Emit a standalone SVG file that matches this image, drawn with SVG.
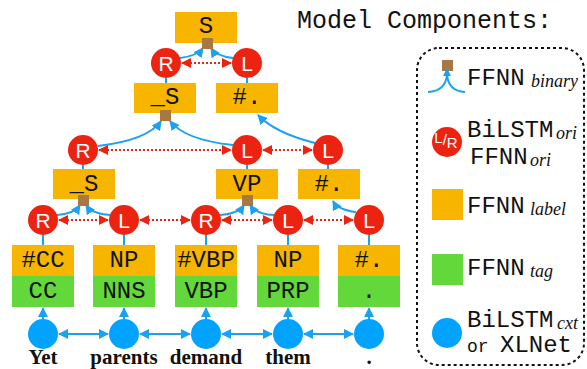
<svg xmlns="http://www.w3.org/2000/svg" width="587" height="369" viewBox="0 0 587 369">
<style>
.ob{fill:#F7B500}
.gb{fill:#62D83A}
.rc{fill:#EC2311}
.bc{fill:#00A3FF}
.sq{fill:#A87842}
.m{font-family:"Liberation Mono",monospace;font-size:24px;fill:#111}
.mc{text-anchor:middle}
.ct{font-family:"Liberation Sans","Open Sans",sans-serif;font-size:21px;fill:#fff;text-anchor:middle}
.w{font-family:"Liberation Serif",serif;font-weight:bold;font-size:21px;fill:#111;text-anchor:middle}
.sub{font-family:"Liberation Serif",serif;font-style:italic;font-size:18px;fill:#111}
.bl{fill:none;stroke:#1BA1F2;stroke-width:2}
.ba{fill:none;stroke:#1BA1F2;stroke-width:2;marker-end:url(#ab)}
.bd{fill:none;stroke:#1BA1F2;stroke-width:2;marker-end:url(#ab);marker-start:url(#ab)}
.rd{fill:none;stroke:#EC2311;stroke-width:2;stroke-dasharray:2,2;marker-end:url(#ar);marker-start:url(#ar)}
</style>
<defs>
<marker id="ab" viewBox="0 0 10 10" refX="9" refY="5" markerWidth="5" markerHeight="5" orient="auto-start-reverse"><path d="M0,0 L10,5 L0,10 z" fill="#1BA1F2"/></marker>
<marker id="ar" viewBox="0 0 10 10" refX="9" refY="5" markerWidth="5" markerHeight="5" orient="auto-start-reverse"><path d="M0,0 L10,5 L0,10 z" fill="#EC2311"/></marker>
</defs>

<g id="connectors">
<path class="bl" d="M166,78V83 M247,78V83 M83,165V169 M247,165V169 M328,165V169 M43,235V245 M124,235V245 M206,235V245 M288,235V245 M369,235V245"/>
<path class="ba" d="M43,319V308"/>
<path class="ba" d="M124,319V308"/>
<path class="ba" d="M206,319V308"/>
<path class="ba" d="M288,319V308"/>
<path class="ba" d="M369,319V308"/>
<path class="bd" d="M59,334H108"/>
<path class="bd" d="M140,334H190"/>
<path class="bd" d="M222,334H272"/>
<path class="bd" d="M304,334H353"/>
<path class="ba" d="M180,58 Q197,56 203,48"/>
<path class="ba" d="M233,58 Q216,56 211,48"/>
<path class="ba" d="M98,146 Q148,140 161,121"/>
<path class="ba" d="M233,145 Q185,140 170,121"/>
<path class="ba" d="M57,215 Q74,214 80,205"/>
<path class="ba" d="M110,215 Q92,214 86,205"/>
<path class="ba" d="M220,215 Q238,214 244,205"/>
<path class="ba" d="M274,215 Q256,214 250,205"/>
<path class="ba" d="M315,143 Q275,133 258,115"/>
<path class="ba" d="M356,212 Q338,210 333,201"/>
<path class="rd" d="M182,63H231"/>
<path class="rd" d="M99,150H231"/>
<path class="rd" d="M263,150H312"/>
<path class="rd" d="M59,220H108"/>
<path class="rd" d="M140,220H190"/>
<path class="rd" d="M222,220H272"/>
<path class="rd" d="M304,220H353"/>
</g>

<g id="n_S"><rect class="ob" x="175" y="12" width="62" height="31"/><text class="m mc" x="206" y="33">S</text></g>
<g id="n_S2"><rect class="ob" x="134" y="83" width="62" height="30"/><text class="m mc" x="165" y="104">_S</text></g>
<g id="n_dot2"><rect class="ob" x="216" y="83" width="62" height="30"/><text class="m mc" x="247" y="104">#.</text></g>
<g id="n_S3"><rect class="ob" x="53" y="169" width="62" height="30"/><text class="m mc" x="84" y="191">_S</text></g>
<g id="n_VP"><rect class="ob" x="216" y="169" width="62" height="30"/><text class="m mc" x="247" y="191">VP</text></g>
<g id="n_dot3"><rect class="ob" x="298" y="169" width="62" height="30"/><text class="m mc" x="329" y="191">#.</text></g>

<g id="sq1"><rect class="sq" x="202" y="38" width="11" height="11"/></g>
<g id="sq2"><rect class="sq" x="160" y="110" width="11" height="11"/></g>
<g id="sq3"><rect class="sq" x="78" y="195" width="11" height="11"/></g>
<g id="sq4"><rect class="sq" x="242" y="195" width="11" height="11"/></g>

<g id="c1R"><circle class="rc" cx="166" cy="63" r="15"/><text class="ct" x="166" y="70.5">R</text></g>
<g id="c1L"><circle class="rc" cx="247" cy="63" r="15"/><text class="ct" x="247" y="70.5">L</text></g>
<g id="c2R"><circle class="rc" cx="83" cy="150" r="15"/><text class="ct" x="83" y="157.5">R</text></g>
<g id="c2L"><circle class="rc" cx="247" cy="150" r="15"/><text class="ct" x="247" y="157.5">L</text></g>
<g id="c2L2"><circle class="rc" cx="328" cy="150" r="15"/><text class="ct" x="328" y="157.5">L</text></g>
<g id="c3R"><circle class="rc" cx="43" cy="220" r="15"/><text class="ct" x="43" y="227.5">R</text></g>
<g id="c3L"><circle class="rc" cx="124" cy="220" r="15"/><text class="ct" x="124" y="227.5">L</text></g>
<g id="c3R2"><circle class="rc" cx="206" cy="220" r="15"/><text class="ct" x="206" y="227.5">R</text></g>
<g id="c3L2"><circle class="rc" cx="288" cy="220" r="15"/><text class="ct" x="288" y="227.5">L</text></g>
<g id="c3L3"><circle class="rc" cx="369" cy="220" r="15"/><text class="ct" x="369" y="227.5">L</text></g>

<g id="t1"><rect class="ob" x="12" y="245" width="62" height="31"/><text class="m mc" x="43" y="267">#CC</text><rect class="gb" x="12" y="276" width="62" height="31"/><text class="m mc" x="43" y="298">CC</text></g>
<g id="t2"><rect class="ob" x="93" y="245" width="62" height="31"/><text class="m mc" x="124" y="267">NP</text><rect class="gb" x="93" y="276" width="62" height="31"/><text class="m mc" x="124" y="298">NNS</text></g>
<g id="t3"><rect class="ob" x="175" y="245" width="62" height="31"/><text class="m mc" x="206" y="267">#VBP</text><rect class="gb" x="175" y="276" width="62" height="31"/><text class="m mc" x="206" y="298">VBP</text></g>
<g id="t4"><rect class="ob" x="257" y="245" width="62" height="31"/><text class="m mc" x="288" y="267">NP</text><rect class="gb" x="257" y="276" width="62" height="31"/><text class="m mc" x="288" y="298">PRP</text></g>
<g id="t5"><rect class="ob" x="338" y="245" width="62" height="31"/><text class="m mc" x="369" y="267">#.</text><rect class="gb" x="338" y="276" width="62" height="31"/><text class="m mc" x="369" y="298">.</text></g>

<g id="w1"><circle class="bc" cx="43" cy="334" r="15"/><text class="w" x="43" y="364">Yet</text></g>
<g id="w2"><circle class="bc" cx="124" cy="334" r="15"/><text class="w" x="124" y="364">parents</text></g>
<g id="w3"><circle class="bc" cx="206" cy="334" r="15"/><text class="w" x="206" y="364">demand</text></g>
<g id="w4"><circle class="bc" cx="288" cy="334" r="15"/><text class="w" x="288" y="364">them</text></g>
<g id="w5"><circle class="bc" cx="369" cy="334" r="15"/><text class="w" x="369" y="364">.</text></g>

<g id="legend">
<text class="m" x="297" y="28" style="font-size:25px">Model Components:</text>
<rect x="417" y="48" width="167" height="317" rx="22" fill="none" stroke="#111" stroke-width="2" stroke-dasharray="3,3"/>
<rect class="sq" x="442" y="60" width="11" height="11"/>
<path class="bl" d="M428,92 Q446,91 447,74"/>
<path class="bl" d="M465,92 Q448,91 447,74"/>
<path d="M443,76 L447,68 L451,76 z" fill="#1BA1F2"/>
<text class="m" x="467" y="85">FFNN</text><text class="sub" x="531" y="87">binary</text>
<circle class="rc" cx="447" cy="142" r="15"/>
<text x="446" y="146" style="font-family:'Liberation Sans',sans-serif;font-size:15px;fill:#fff;text-anchor:middle"><tspan dy="-3">L</tspan><tspan dy="2">/</tspan><tspan dy="3">R</tspan></text>
<text class="m" x="467" y="137">BiLSTM</text><text class="sub" x="556" y="139">ori</text>
<text class="m" x="470" y="164">FFNN</text><text class="sub" x="530" y="166">ori</text>
<rect class="ob" x="432" y="189" width="31" height="31"/>
<text class="m" x="467" y="213">FFNN</text><text class="sub" x="530" y="215">label</text>
<rect class="gb" x="432" y="254" width="31" height="31"/>
<text class="m" x="467" y="275">FFNN</text><text class="sub" x="530" y="277">tag</text>
<circle class="bc" cx="447" cy="333" r="15"/>
<text class="m" x="467" y="327">BiLSTM</text><text class="sub" x="557" y="329">cxt</text>
<text class="m" x="467" y="352" style="font-size:18px">or</text><text class="m" x="500" y="352">XLNet</text>
</g>
</svg>
